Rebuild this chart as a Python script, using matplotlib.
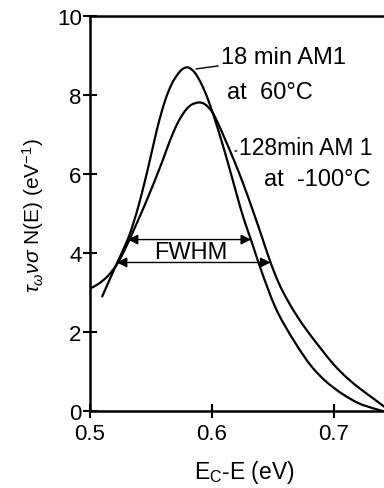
import matplotlib
matplotlib.use("Agg")
import matplotlib.pyplot as plt
from matplotlib.path import Path
from matplotlib.patches import PathPatch

plt.rcParams['font.family'] = ['Liberation Sans', 'DejaVu Sans']
plt.rcParams['mathtext.fontset'] = 'custom'
plt.rcParams['mathtext.rm'] = 'Liberation Sans'
plt.rcParams['mathtext.it'] = 'Liberation Sans:italic'
plt.rcParams['mathtext.bf'] = 'Liberation Sans:bold'

# Defect density spectra, E_C - E in eV
energy_18min = [0.510, 0.516, 0.523, 0.531, 0.536, 0.540, 0.545, 0.549, 0.553, 0.557,
                0.562, 0.567, 0.572, 0.576, 0.580, 0.584, 0.588, 0.593, 0.598, 0.603,
                0.608, 0.614, 0.621, 0.626, 0.632, 0.639, 0.646, 0.652, 0.659, 0.670,
                0.681, 0.693, 0.706, 0.720, 0.733, 0.740]
dos_18min = [2.90, 3.32, 3.80, 4.35, 4.80, 5.22, 5.82, 6.34, 6.88, 7.38,
             7.90, 8.28, 8.53, 8.66, 8.70, 8.63, 8.47, 8.17, 7.78, 7.32,
             6.82, 6.18, 5.40, 4.87, 4.33, 3.68, 3.08, 2.62, 2.20, 1.64,
             1.15, 0.76, 0.45, 0.20, 0.06, 0.00]

energy_128min = [0.500, 0.507, 0.515, 0.523, 0.530, 0.537, 0.543, 0.549, 0.555, 0.560,
                 0.566, 0.572, 0.578, 0.583, 0.589, 0.594, 0.600, 0.605, 0.610, 0.618,
                 0.626, 0.634, 0.641, 0.648, 0.655, 0.662, 0.670, 0.679, 0.690, 0.700,
                 0.711, 0.722, 0.733, 0.742]
dos_128min = [3.10, 3.22, 3.43, 3.76, 4.18, 4.66, 5.08, 5.52, 5.98, 6.38,
              6.88, 7.30, 7.60, 7.75, 7.81, 7.77, 7.58, 7.28, 6.93, 6.35,
              5.72, 5.03, 4.40, 3.76, 3.22, 2.80, 2.39, 1.99, 1.55, 1.17,
              0.83, 0.55, 0.30, 0.09]

# Full width at half maximum markers: level, left edge, right edge
fwhm_18min = (4.34, 0.531, 0.632)
fwhm_128min = (3.76, 0.522, 0.648)

x_ticks = [0.5, 0.6, 0.7]
y_ticks = [0, 2, 4, 6, 8, 10]


def smooth_path(xs, ys):
    """Cubic Bezier path passing through every (x, y) point (Catmull-Rom tangents)."""
    pts = list(zip(xs, ys))
    n = len(pts)
    verts = [pts[0]]
    codes = [Path.MOVETO]
    for i in range(n - 1):
        p0 = pts[i - 1] if i > 0 else pts[i]
        p1 = pts[i]
        p2 = pts[i + 1]
        p3 = pts[i + 2] if i + 2 < n else pts[i + 1]
        c1 = (p1[0] + (p2[0] - p0[0]) / 6, p1[1] + (p2[1] - p0[1]) / 6)
        c2 = (p2[0] - (p3[0] - p1[0]) / 6, p2[1] - (p3[1] - p1[1]) / 6)
        verts += [c1, c2, p2]
        codes += [Path.CURVE4] * 3
    return Path(verts, codes)


fig = plt.figure(figsize=(3.84, 4.89), dpi=100)
ax = fig.add_axes([90 / 384, 77 / 489, 294 / 384, 395 / 489])

for xs, ys in ((energy_18min, dos_18min), (energy_128min, dos_128min)):
    ax.add_patch(PathPatch(smooth_path(xs, ys), facecolor='none',
                           edgecolor='black', lw=1.6, capstyle='round'))

arrow_style = dict(arrowstyle='<|-|>', color='black', lw=1.0,
                   mutation_scale=15, shrinkA=0, shrinkB=0)
for level, left, right in (fwhm_18min, fwhm_128min):
    ax.annotate('', xy=(left, level), xytext=(right, level), arrowprops=arrow_style)
ax.text(0.5828, 4.02, 'FWHM', fontsize=17, ha='center', va='center')

leader = dict(arrowstyle='-', color='black', lw=1.0, shrinkA=0, shrinkB=0)
ax.annotate('18 min AM1', xy=(0.5869, 8.66), xytext=(0.6074, 8.96),
            fontsize=17, ha='left', va='center', arrowprops=leader)
ax.text(0.6123, 8.08, 'at  60°C', fontsize=17, ha='left', va='center')
ax.annotate('128min AM 1', xy=(0.6189, 6.58), xytext=(0.6225, 6.68),
            fontsize=16.5, ha='left', va='center', arrowprops=leader)
ax.text(0.6426, 5.87, 'at  -100°C', fontsize=17, ha='left', va='center')

ax.set_xlim(0.5, 0.741)
ax.set_ylim(0, 10)
ax.set_xticks(x_ticks)
ax.set_xticklabels(['0.5', '0.6', '0.7'])
ax.set_yticks(y_ticks)
ax.set_yticklabels([str(v) for v in y_ticks])

for side in ('left', 'bottom', 'top'):
    ax.spines[side].set_linewidth(1.8)
ax.spines['right'].set_visible(False)
ax.tick_params(axis='both', direction='inout', length=10, width=1.5, labelsize=16)
ax.tick_params(axis='y', pad=1)
ax.tick_params(axis='x', pad=4)

ax.set_xlabel(r'E$_\mathrm{C}$-E (eV)', fontsize=16.5, va='center')
ax.xaxis.set_label_coords(0.524, -0.152)
ax.set_ylabel(r'$\tau_\omega\nu\sigma$ N(E) (eV$^{-1}$)', fontsize=15, va='center')
ax.yaxis.set_label_coords(-0.194, 0.496)

fig.savefig('out.png', dpi=100)
